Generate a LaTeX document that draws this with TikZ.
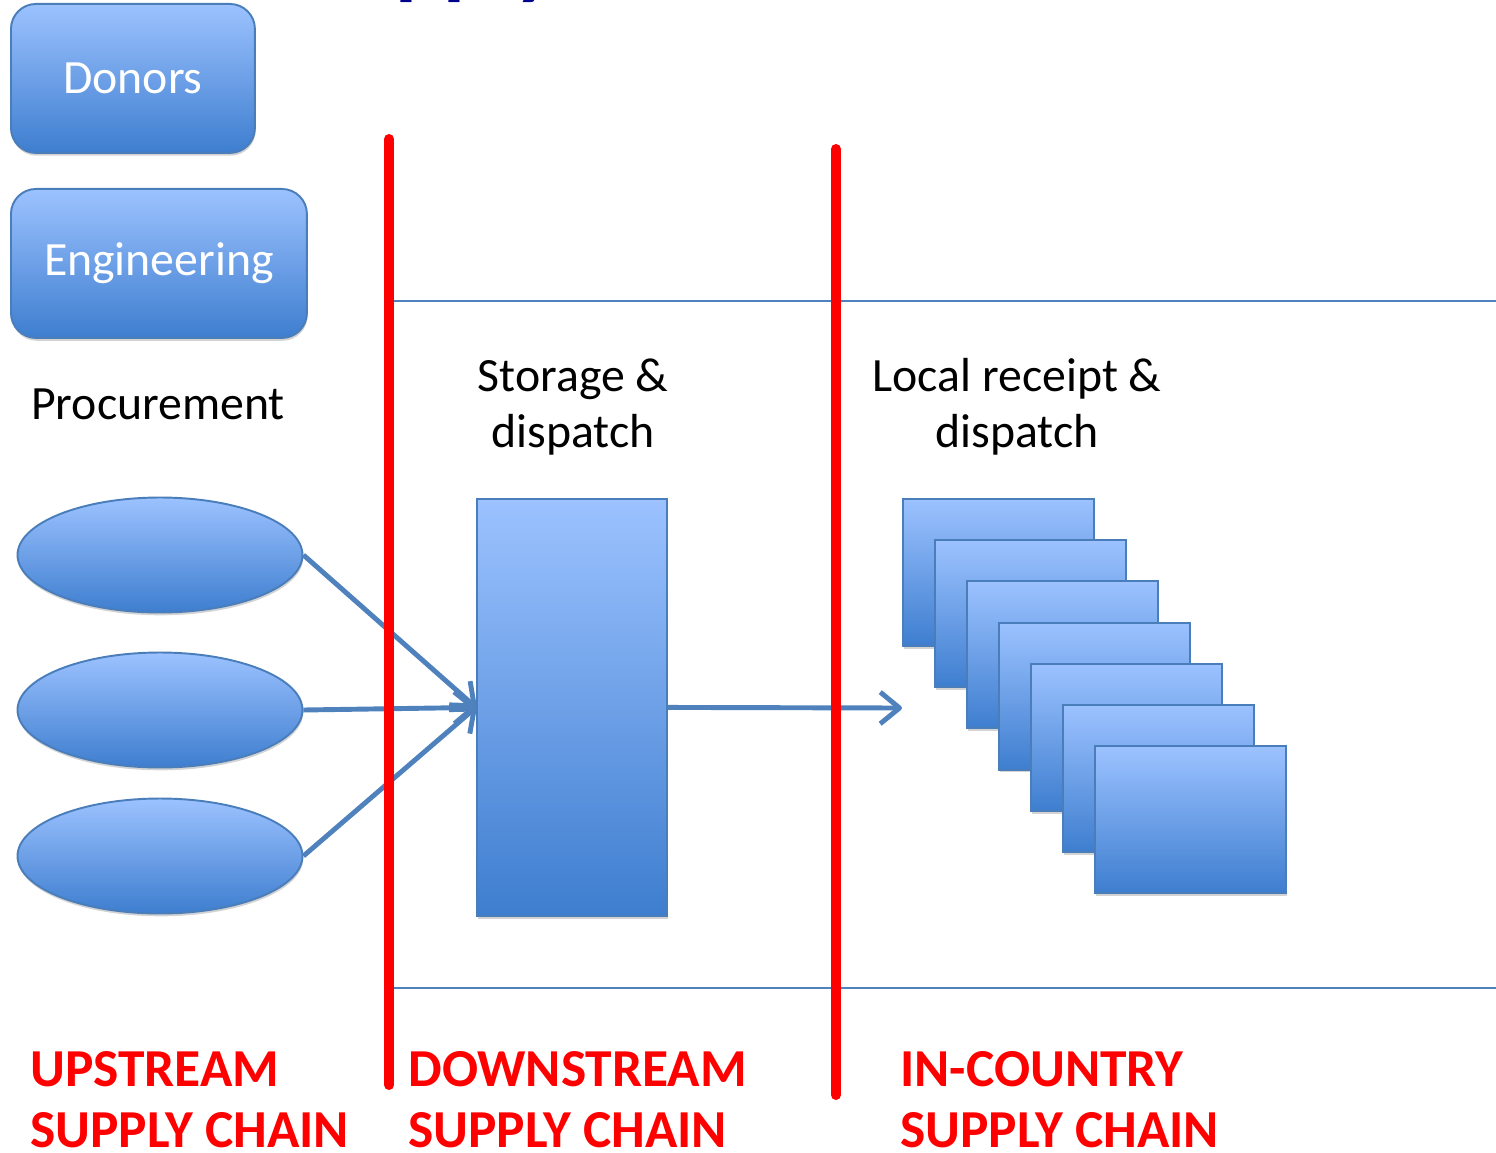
\documentclass[tikz,border=0pt]{standalone}
\usepackage{fontspec}
\setmainfont{Carlito}
\usetikzlibrary{arrows.meta, positioning, shapes.geometric, shadows}
\definecolor{cardtop}{HTML}{9CC2FF}
\definecolor{cardbot}{HTML}{3E7ECF}
\definecolor{cardedge}{HTML}{4A7EBB}
\definecolor{linkblue}{HTML}{4F81BD}
\definecolor{titleblue}{HTML}{00008F}
\newcommand\diagfont{\fontsize{27.2}{32}\selectfont}
\newcommand\chainfont{\fontsize{30.4}{35}\selectfont\bfseries}

\begin{document}
\begin{tikzpicture}[x=0.02cm, y=-0.02cm,
    shadebox/.style={draw=cardedge, line width=1.1pt, top color=cardtop, bottom color=cardbot,
      drop shadow={shadow xshift=0.4pt, shadow yshift=-1.6pt, opacity=0.35, fill=gray}},
    roundbox/.style={shadebox, rounded corners=0.5cm, minimum height=2.98cm, inner sep=0,
      text=white, font=\diagfont},
    oval/.style={shadebox, ellipse, minimum width=5.7cm, minimum height=2.3cm, inner sep=0},
    card/.style={shadebox, minimum width=3.82cm, minimum height=2.94cm, inner sep=0},
    link/.style={linkblue, line width=2.8pt, -{Straight Barb[length=11pt, width=18pt, line join=round]}},
    band/.style={linkblue, line width=1.1pt},
    redbar/.style={red, line width=5.7pt, line cap=round},
    stage/.style={font=\diagfont, align=center, inner sep=0},
    chain/.style={font=\chainfont, text=red, align=left, inner sep=0}]
  \useasboundingbox (0,0) rectangle (1496,1152);
  % title, cut by the page
  \node[font=\fontsize{51}{60}\selectfont\bfseries, text=titleblue, anchor=base west, inner sep=0]
    (title) at (305,-11) {Supply};
  % bands
  \draw[band] (394,301) -- (1496,301);
  \draw[band] (394,988) -- (1496,988);
  % upstream
  \node[roundbox, minimum width=4.88cm, anchor=north west] (donors) at (10,3) {Donors};
  \node[roundbox, minimum width=5.92cm, anchor=north west] (eng) at (10,188) {Engineering};
  \node[font=\diagfont, anchor=base, inner sep=0] (proc) at (158,419) {Procurement};
  \node[oval] (sup1) at (160,555) {};
  \node[oval] (sup2) at (160,710) {};
  \node[oval] (sup3) at (160,856) {};
  % downstream
  \node[stage, anchor=north] (storelbl) at (573,358) {Storage \&\\dispatch};
  \node[shadebox, minimum width=3.8cm, minimum height=8.34cm, inner sep=0, anchor=north west]
    (store) at (476,498) {};
  % in-country
  \node[stage, anchor=north] (locallbl) at (1017,358) {Local receipt \&\\dispatch};
  \foreach \i in {0,...,6}
    \node[card, anchor=north west] (card\i) at ({902+32*\i},{498+41.2*\i}) {};
  \coordinate (stackin) at (902,708);
  % flows
  \draw[link] (sup1.east) -- (store.west);
  \draw[link] (sup2.east) -- (store.west);
  \draw[link] (sup3.east) -- (store.west);
  \draw[link] (store.east) -- (stackin);
  % borders
  \draw[redbar] (389,139) -- (389,1085);
  \draw[redbar] (836,149) -- (836,1095);
  \node[chain, anchor=north west] (upchain) at (30,1051) {UPSTREAM\\SUPPLY CHAIN};
  \node[chain, anchor=north west] (downchain) at (408,1051) {DOWNSTREAM\\SUPPLY CHAIN};
  \node[chain, anchor=north west] (incchain) at (900,1051) {IN-COUNTRY\\SUPPLY CHAIN};
\end{tikzpicture}
\end{document}
